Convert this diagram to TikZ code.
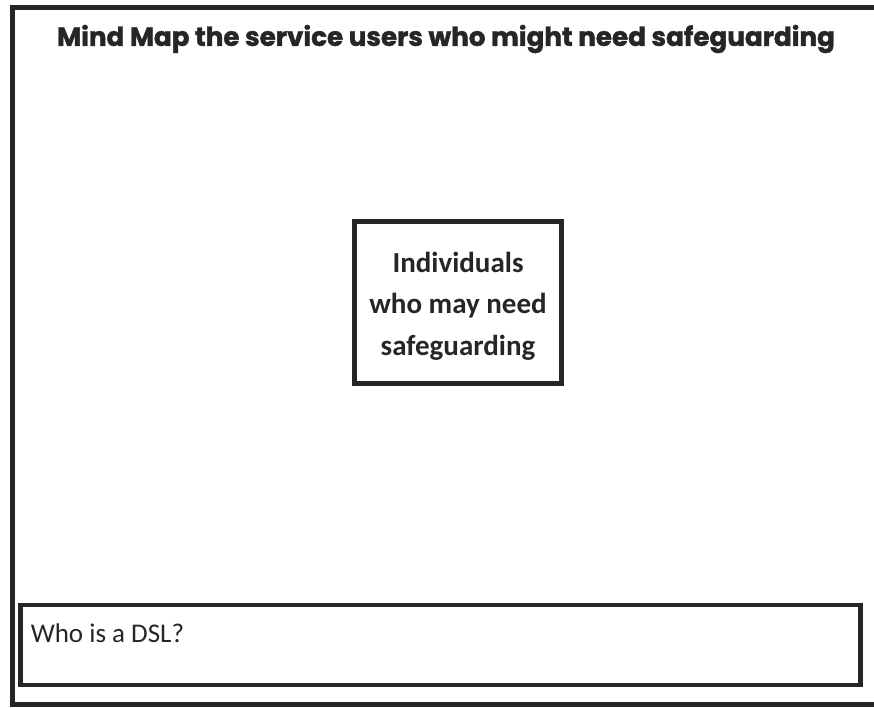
\documentclass[tikz,border=0pt]{standalone}
\usepackage{fontspec}
\setmainfont{Carlito}
\newfontfamily\titlefont{Poppins}[BoldFont=* Bold,BoldFeatures={FakeBold=1.5}]
\usetikzlibrary{positioning}

\tikzset{
    frameline/.style={line width=5pt,black!85},
    boxline/.style={line width=4.5pt,black!85},
}

\begin{document}
\begin{tikzpicture}[x=1pt,y=-1pt]
                            % Page
                            \useasboundingbox (0,0) rectangle (874,708);
                            \fill[white] (0,0) rectangle (874,708);

                            % Outer frame
                            \draw[frameline] (874,7.5) -- (12.5,7.5) -- (12.5,704) -- (874,704);

                            % Title
                            \node[font=\titlefont\bfseries\fontsize{26.2}{30}\selectfont,black!85]
                                  (title) at (446,39) {Mind Map the service users who might need safeguarding};

                            % Centre box
                            \node[boxline,draw,minimum width=207pt,minimum height=162pt] (centre) at (458,302.5) {};
                            \node[align=center,font=\bfseries\fontsize{29}{41.5}\selectfont,black!85]
                                  (centretext) at ([yshift=-3.5pt]centre.center) {Individuals\\who may need\\safeguarding};

                            % DSL box
                            \node[boxline,draw,minimum width=840pt,minimum height=80pt] (dsl) at (440.5,645) {};
                            \node[font=\fontsize{27}{32}\selectfont,black!85,anchor=west]
                                  (dsltext) at ([xshift=9pt,yshift=12pt]dsl.west) {Who is a DSL?};
                      \end{tikzpicture}
\end{document}
